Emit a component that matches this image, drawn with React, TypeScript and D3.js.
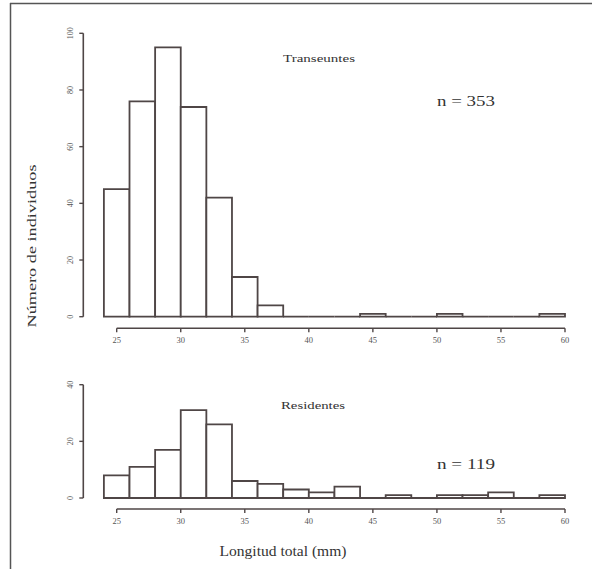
import React from "react";
import * as d3 from "d3";

const binStart = 24;
const binWidth = 2;
const transeuntes = [45, 76, 95, 74, 42, 14, 4, 0, 0, 0, 1, 0, 0, 1, 0, 0, 0, 1];
const residentes = [8, 11, 17, 31, 26, 6, 5, 3, 2, 4, 0, 1, 0, 1, 1, 2, 0, 1];
const xTicks = [25, 30, 35, 40, 45, 50, 55, 60];
const yTicksTop = [0, 20, 40, 60, 80, 100];
const yTicksBot = [0, 20, 40];

const ink = "#4f4646";
const font = "'Liberation Serif', 'Times New Roman', serif";

export default function App() {
  const x = d3.scaleLinear().domain([25, 60]).range([116.7, 565]);
  const yTop = d3.scaleLinear().domain([0, 100]).range([316.7, 33.3]);
  const yBot = d3.scaleLinear().domain([0, 40]).range([498, 384.7]);
  const axisX = 83.3;

  const panel = (
    counts: number[],
    y: d3.ScaleLinear<number, number>,
    ticks: number[],
    axisY: number,
    key: string
  ) => (
    <g key={key}>
      {counts.map((c, i) => {
        const x0 = x(binStart + i * binWidth);
        const x1 = x(binStart + (i + 1) * binWidth);
        const p = d3.path();
        p.moveTo(x0, y(0));
        p.lineTo(x0, y(c));
        p.lineTo(x1, y(c));
        p.lineTo(x1, y(0));
        p.closePath();
        return (
          <path
            key={i}
            d={p.toString()}
            fill="white"
            stroke={ink}
            strokeWidth={1.8}
          />
        );
      })}
      {/* y axis */}
      <line x1={axisX} x2={axisX} y1={y(ticks[0])} y2={y(ticks[ticks.length - 1])} stroke={ink} strokeWidth={1.6} />
      {ticks.map((t) => (
        <g key={t}>
          <line x1={axisX - 4} x2={axisX} y1={y(t)} y2={y(t)} stroke={ink} strokeWidth={1.4} />
          <text
            transform={`translate(${axisX - 10},${y(t)}) rotate(-90)`}
            textAnchor="middle"
            fontSize={8}
            fontFamily={font}
            fill="#555"
          >
            {t}
          </text>
        </g>
      ))}
      {/* x axis */}
      <line x1={x(25)} x2={x(60)} y1={axisY} y2={axisY} stroke={ink} strokeWidth={1.6} />
      {xTicks.map((t) => (
        <g key={t}>
          <line x1={x(t)} x2={x(t)} y1={axisY} y2={axisY + 4} stroke={ink} strokeWidth={1.4} />
          <text x={x(t)} y={axisY + 15} textAnchor="middle" fontSize={8.5} fontFamily={font} fill="#555">
            {t}
          </text>
        </g>
      ))}
    </g>
  );

  return (
    <svg width={592} height={569} style={{ position: "absolute", left: 0, top: 0 }}>
      <rect x={0} y={0} width={592} height={569} fill="white" />
      <line x1={10.5} x2={10.5} y1={3} y2={569} stroke="#555" strokeWidth={1.5} />
      <line x1={10} x2={592} y1={3.5} y2={3.5} stroke="#555" strokeWidth={1.5} />
      {panel(transeuntes, yTop, yTicksTop, 328.3, "top")}
      {panel(residentes, yBot, yTicksBot, 509, "bot")}
      <text x={319} y={62} textAnchor="middle" fontSize={11} fontFamily={font} fill="#333" textLength={72} lengthAdjust="spacingAndGlyphs">
        Transeuntes
      </text>
      <text x={466} y={106} textAnchor="middle" fontSize={14} fontFamily={font} fill="#333" textLength={58} lengthAdjust="spacingAndGlyphs">
        n = 353
      </text>
      <text x={313} y={409} textAnchor="middle" fontSize={11} fontFamily={font} fill="#333" textLength={64} lengthAdjust="spacingAndGlyphs">
        Residentes
      </text>
      <text x={466} y={469} textAnchor="middle" fontSize={14} fontFamily={font} fill="#333" textLength={58} lengthAdjust="spacingAndGlyphs">
        n = 119
      </text>
      <text x={283} y={556} textAnchor="middle" fontSize={14} fontFamily={font} fill="#333" textLength={127} lengthAdjust="spacingAndGlyphs">
        Longitud total (mm)
      </text>
      <text
        transform="translate(36,246) rotate(-90)"
        textAnchor="middle"
        fontSize={13}
        fontFamily={font}
        fill="#333"
        textLength={163}
        lengthAdjust="spacingAndGlyphs"
      >
        Número de individuos
      </text>
    </svg>
  );
}
